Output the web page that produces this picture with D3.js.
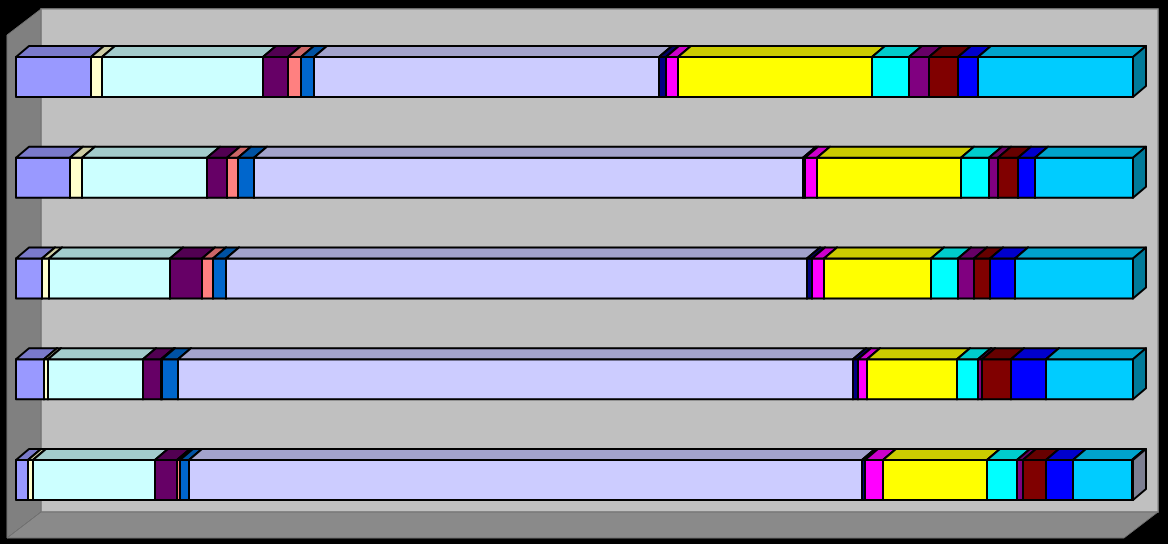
<!DOCTYPE html>
<html>
<head>
<meta charset="utf-8">
<script src="https://cdn.jsdelivr.net/npm/d3@7"></script>
<style>
  html, body { margin: 0; padding: 0; background: #000; }
  svg { display: block; }
</style>
</head>
<body>
<div id="chart"></div>
<script>
// rows, top to bottom
var rowNames = ["A", "B", "C", "D", "E"];

// one array per series, one value per row
var s01 = [75, 54, 26, 28, 12];
var s02 = [11, 12, 7, 4, 5];
var s03 = [161, 125, 121, 95, 122];
var s04 = [25, 20, 32, 18, 22];
var s05 = [13, 11, 11, 1, 3];
var s06 = [13, 16, 13, 16, 9];
var s07 = [345, 549, 581, 675, 673];
var s08 = [7, 2, 5, 5, 3];
var s09 = [12, 12, 12, 9, 18];
var s10 = [194, 144, 107, 90, 104];
var s11 = [37, 28, 27, 21, 30];
var s12 = [20, 9, 16, 4, 6];
var s13 = [29, 20, 16, 29, 23];
var s14 = [20, 17, 25, 35, 27];
var s15 = [155, 98, 118, 87, 59];
var s16 = [0, 0, 0, 0, 1];

var seriesValues = [s01, s02, s03, s04, s05, s06, s07, s08, s09, s10, s11, s12, s13, s14, s15, s16];
var seriesColors = ["#9999FF", "#FFFFCC", "#CCFFFF", "#660066", "#FF8080", "#0066CC", "#CCCCFF", "#000080",
                    "#FF00FF", "#FFFF00", "#00FFFF", "#800080", "#800000", "#0000FF", "#00CCFF", "#D0D4F4"];

var W = 1168, H = 544;

var svg = d3.select("#chart")
  .append("svg")
    .attr("width", W)
    .attr("height", H);

svg.append("rect").attr("width", W).attr("height", H).attr("fill", "#000");

// walls: back, left, floor
var wall = {x0: 41, x1: 1158, y0: 9, y1: 512, dx: 34, dy: 26};
svg.append("rect")
  .attr("x", wall.x0).attr("y", wall.y0)
  .attr("width", wall.x1 - wall.x0).attr("height", wall.y1 - wall.y0)
  .attr("fill", "#C0C0C0").attr("stroke", "#909090").attr("stroke-width", 1.5);
svg.append("polygon")
  .attr("points", [[wall.x0, wall.y0], [wall.x0, wall.y1], [wall.x0 - wall.dx, wall.y1 + wall.dy], [wall.x0 - wall.dx, wall.y0 + wall.dy]].join(" "))
  .attr("fill", "#808080").attr("stroke", "#707070");
svg.append("polygon")
  .attr("points", [[wall.x0, wall.y1], [wall.x1, wall.y1], [wall.x1 - wall.dx, wall.y1 + wall.dy], [wall.x0 - wall.dx, wall.y1 + wall.dy]].join(" "))
  .attr("fill", "#8A8A8A").attr("stroke", "#707070");

// table for the stack
var table = rowNames.map(function(r, i) {
  var o = {row: r};
  seriesValues.forEach(function(s, j) { o["s" + j] = s[i]; });
  return o;
});
var keys = seriesValues.map(function(s, j) { return "s" + j; });

var stacked = d3.stack().keys(keys).offset(d3.stackOffsetExpand)(table);

var x = d3.scaleLinear().domain([0, 1]).range([16, 1133]);
var y = d3.scaleBand().domain(rowNames).range([57, 500]).paddingInner(0.603).paddingOuter(0);

var depth = {dx: 13, dy: 11};

function shade(c, k) {
  var r = d3.rgb(c);
  return d3.rgb(r.r * k, r.g * k, r.b * k).formatHex();
}

// draw row by row, segments left to right so later faces cover earlier sides
rowNames.forEach(function(rName, i) {
  var g = svg.append("g");
  var y0 = y(rName), h = y.bandwidth();
  stacked.forEach(function(layer, j) {
    var d = layer[i];
    if (d[1] - d[0] <= 0) return;
    var xa = x(d[0]), xb = x(d[1]);
    var col = seriesColors[j];
    // front
    g.append("rect")
      .attr("x", xa).attr("y", y0)
      .attr("width", xb - xa).attr("height", h)
      .attr("fill", col);
    // top
    g.append("polygon")
      .attr("points", [[xa, y0], [xa + depth.dx, y0 - depth.dy], [xb + depth.dx, y0 - depth.dy], [xb, y0]].join(" "))
      .attr("fill", shade(col, 0.8));
    // side
    g.append("polygon")
      .attr("points", [[xb, y0], [xb + depth.dx, y0 - depth.dy], [xb + depth.dx, y0 + h - depth.dy], [xb, y0 + h]].join(" "))
      .attr("fill", shade(col, 0.6));
  });
  g.selectAll("rect, polygon")
    .attr("stroke", "#000")
    .attr("stroke-width", 2)
    .attr("stroke-linejoin", "round");
});
</script>
</body>
</html>
